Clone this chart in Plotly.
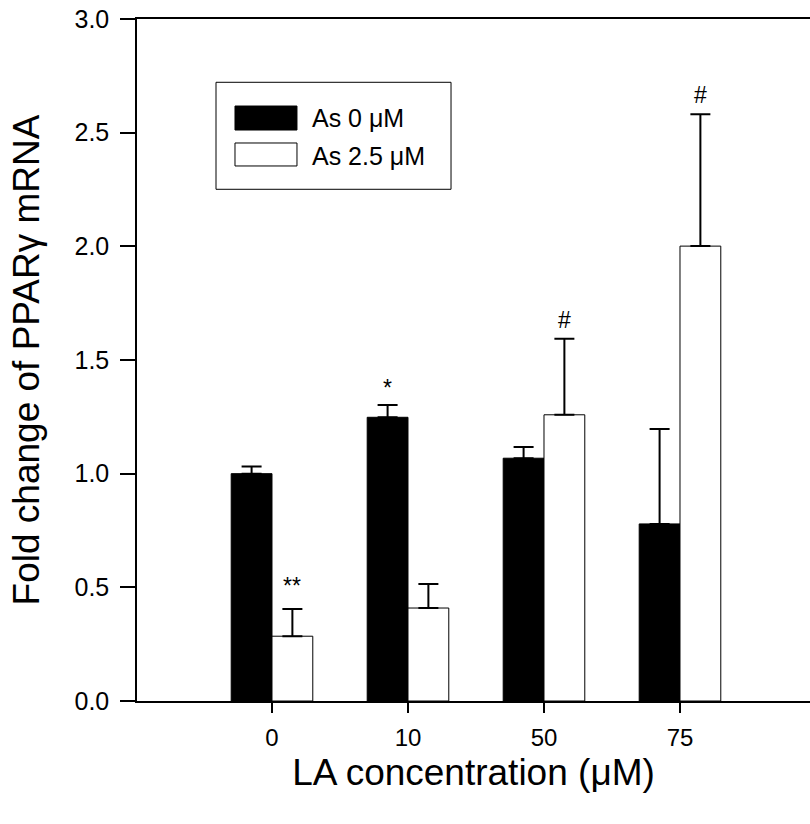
import plotly.graph_objects as go

categories = ["0", "10", "50", "75"]
as0_values = [1.00, 1.248, 1.068, 0.779]
as0_errors = [0.032, 0.054, 0.049, 0.418]
as25_values = [0.285, 0.409, 1.259, 2.001]
as25_errors = [0.120, 0.106, 0.335, 0.580]
as0_marks = ["", "*", "", ""]
as25_marks = ["**", "", "#", "#"]

FONT = "Liberation Sans, Arial, sans-serif"

fig = go.Figure()
fig.add_trace(go.Bar(
    x=categories, y=as0_values, name="As 0 \u03bcM",
    marker=dict(color="black", line=dict(color="black", width=1)),
    error_y=dict(type="data", array=as0_errors, arrayminus=[0] * len(as0_errors),
                 symmetric=False, color="black", thickness=2, width=10),
    showlegend=False,
))
fig.add_trace(go.Bar(
    x=categories, y=as25_values, name="As 2.5 \u03bcM",
    marker=dict(color="white", line=dict(color="black", width=1)),
    error_y=dict(type="data", array=as25_errors, arrayminus=[0] * len(as25_errors),
                 symmetric=False, color="black", thickness=2, width=10),
    showlegend=False,
))

# significance marks above error bars (x given as category index)
for i, c in enumerate(categories):
    if as0_marks[i]:
        fig.add_annotation(x=i, y=as0_values[i] + as0_errors[i], text=as0_marks[i],
                           showarrow=False, xshift=-20.5, yanchor="bottom", yshift=2,
                           font=dict(family=FONT, size=23, color="black"))
    if as25_marks[i]:
        fig.add_annotation(x=i, y=as25_values[i] + as25_errors[i], text=as25_marks[i],
                           showarrow=False, xshift=20.5, yanchor="bottom",
                           yshift=8 if as25_marks[i] == "**" else 4,
                           font=dict(family=FONT, size=23, color="black"))

# custom legend box (paper coordinates)
fig.add_shape(type="rect", xref="paper", yref="paper", x0=0.1174, x1=0.4666,
              y0=0.7503, y1=0.9072, line=dict(color="black", width=1), fillcolor="white")
fig.add_shape(type="rect", xref="paper", yref="paper", x0=0.1456, x1=0.2377,
              y0=0.8372, y1=0.8724, line=dict(color="black", width=1), fillcolor="black")
fig.add_shape(type="rect", xref="paper", yref="paper", x0=0.1456, x1=0.2377,
              y0=0.7845, y1=0.8182, line=dict(color="black", width=1), fillcolor="white")
fig.add_annotation(xref="paper", yref="paper", x=0.2571, y=0.8544, text="As 0 \u03bcM",
                   showarrow=False, xanchor="left", yanchor="middle",
                   font=dict(family=FONT, size=25, color="black"))
fig.add_annotation(xref="paper", yref="paper", x=0.2571, y=0.7996, text="As 2.5 \u03bcM",
                   showarrow=False, xanchor="left", yanchor="middle",
                   font=dict(family=FONT, size=25, color="black"))

fig.update_layout(
    width=810, height=824,
    margin=dict(l=137, r=0, t=19, b=123, autoexpand=False),
    paper_bgcolor="white", plot_bgcolor="white",
    barmode="group", bargap=0.4, bargroupgap=0,
    font=dict(family=FONT, color="black"),
    xaxis=dict(
        type="category", range=[-0.9926, 3.956],
        showline=True, linecolor="black", linewidth=1.5, mirror=True,
        ticks="outside", ticklen=10, tickwidth=1.5, tickcolor="black",
        tickfont=dict(family=FONT, size=24, color="black"),
        ticklabelstandoff=4,
        showgrid=False, zeroline=False,
        title=dict(text="LA concentration (\u03bcM)", font=dict(family=FONT, size=37, color="black"),
                   standoff=10),
        automargin=False,
    ),
    yaxis=dict(
        range=[0, 3], dtick=0.5, tick0=0, tickformat=".1f",
        showline=True, linecolor="black", linewidth=1.5, mirror=False,
        ticks="outside", ticklen=15, tickwidth=1.5, tickcolor="black",
        tickfont=dict(family=FONT, size=25, color="black"),
        ticklabelstandoff=6,
        showgrid=False, zeroline=False,
        title=dict(text="Fold change of PPAR\u03b3 mRNA", font=dict(family=FONT, size=37, color="black"),
                   standoff=24),
        automargin=False,
    ),
)

fig.write_html("out.html", config={"displayModeBar": False},
               post_script="document.body.style.margin='0';document.body.style.overflow='hidden';")
